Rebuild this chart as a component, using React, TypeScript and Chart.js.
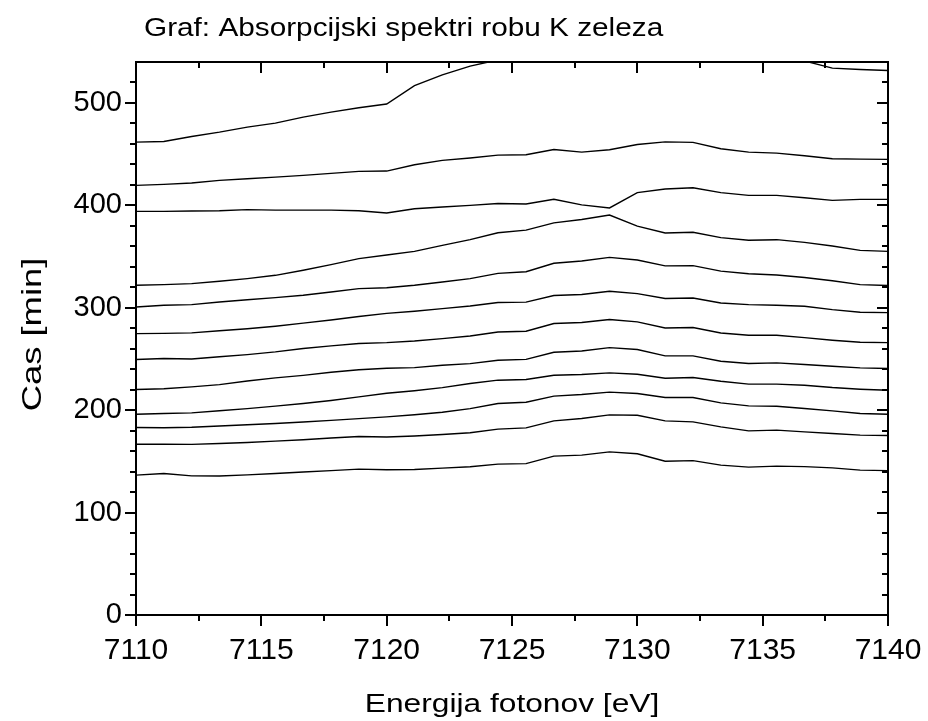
import React, { useEffect, useRef } from 'react';
import { Chart, registerables } from 'chart.js';

Chart.register(...registerables);

const chartTitle = 'Graf: Absorpcijski spektri robu K zeleza';
const xTitle = 'Energija fotonov [eV]';
const yTitle = 'Cas [min]';

const energy = [7110, 7111.11, 7112.22, 7113.33, 7114.44, 7115.56, 7116.67, 7117.78, 7118.89, 7120, 7121.11, 7122.22, 7123.33, 7124.44, 7125.56, 7126.67, 7127.78, 7128.89, 7130, 7131.11, 7132.22, 7133.33, 7134.44, 7135.56, 7136.67, 7137.78, 7138.89, 7140];

const line1 = [136.6, 138.2, 135.9, 135.8, 136.8, 138.2, 139.6, 141, 142.4, 141.8, 142.1, 143.4, 144.7, 147.3, 147.8, 155.1, 156.1, 159.3, 157.5, 150.2, 150.7, 146.3, 144.4, 145.4, 144.9, 143.7, 141.5, 141];
const line2 = [166.8, 166.8, 166.6, 167.5, 168.5, 169.8, 171.2, 172.8, 174.3, 173.8, 174.8, 176.3, 178, 181.5, 182.7, 189.6, 191.9, 195.4, 195.1, 189.6, 188.6, 183.7, 179.8, 180.5, 178.8, 177.3, 175.6, 175.3];
const line3 = [183.1, 182.8, 183.3, 184.5, 185.8, 187, 188.4, 190, 191.8, 193.5, 195.5, 198, 201.5, 206.5, 207.8, 213.7, 215.3, 217.6, 216.3, 212.4, 212.4, 207.1, 204.2, 203.9, 201.7, 199.3, 196.8, 196.1];
const line4 = [196.1, 196.8, 197.4, 199.5, 201.5, 204, 206.5, 209.5, 213, 216.5, 219, 222, 226, 229.3, 230, 234.1, 234.8, 236.4, 235.1, 231.2, 231.9, 228.3, 225.4, 225.4, 224.4, 222.1, 220.5, 219.5];
const line5 = [220.2, 221, 222.8, 225, 228.5, 231.5, 234, 237, 239.5, 241, 241.6, 243.9, 245.5, 248.8, 249.6, 256.6, 257.8, 261.1, 259.2, 253, 253, 247.8, 245.6, 246.2, 244.6, 242.9, 241.3, 240.7];
const line6 = [249.5, 250.4, 250, 252.2, 254.3, 256.9, 260.2, 262.8, 265.1, 266, 267.6, 269.9, 272.5, 276.4, 277.1, 284.6, 285.6, 288.5, 286.2, 280.3, 280.7, 275.4, 273.2, 273.2, 270.9, 268.3, 266.3, 266];
const line7 = [274.8, 275, 275.5, 277.5, 279.5, 282, 285, 288, 291.5, 294.5, 296.6, 299.2, 301.8, 305.1, 305.5, 312, 313, 316.1, 313.8, 309, 309.6, 304.7, 303.1, 302.4, 301.5, 298.2, 295.6, 295.3];
const line8 = [300.8, 302.4, 303.1, 305.7, 307.9, 309.9, 312.2, 315.4, 318.7, 319.5, 322, 325.2, 328.5, 333.6, 335.2, 343.5, 345.7, 349.2, 346.6, 340.9, 341.2, 335.8, 333.2, 332, 329.5, 326.4, 322.6, 321.7];
const line9 = [322, 322.6, 323.6, 325.9, 328.5, 331.7, 336.6, 342.1, 348, 351.5, 355.1, 361, 366.5, 373.3, 375.8, 382.9, 386.2, 390.6, 379.8, 373, 373.7, 368.5, 365.9, 366.5, 363.9, 360.3, 356.1, 355.1];
const line10 = [394.1, 394.1, 394.5, 394.8, 395.8, 395.4, 395.4, 395.4, 394.8, 392.5, 396.7, 398.4, 400, 401.8, 401.3, 405.9, 400.5, 397.5, 412.4, 416, 417.2, 412.4, 409.8, 409.8, 407.5, 404.9, 405.9, 405.9];
const line11 = [419.5, 420.5, 421.8, 424.4, 426, 427.6, 429.3, 431.2, 433.2, 433.5, 439.7, 443.9, 446.2, 449.1, 449.4, 454.6, 452, 454.3, 459.5, 462, 461.5, 455.3, 452, 451, 448.5, 445.5, 445.2, 444.9];
const line12 = [461.8, 462.4, 467.3, 471.5, 476.4, 480.3, 486.2, 491, 495.3, 499, 517, 527.5, 536, 542, 547, 551, 554, 556, 557, 558, 557, 555, 552, 548, 541, 534, 532.7, 531.7];

const seriesList = [line1, line2, line3, line4, line5, line6, line7, line8, line9, line10, line11, line12];

const xMajorTicks = [7110, 7115, 7120, 7125, 7130, 7135, 7140];
const xMinorTicks = [7112.5, 7117.5, 7122.5, 7127.5, 7132.5, 7137.5];
const yMajorTicks = [0, 100, 200, 300, 400, 500];
const yMinorTicks = [20, 40, 60, 80, 120, 140, 160, 180, 220, 240, 260, 280, 320, 340, 360, 380, 420, 440, 460, 480, 520];

const FONT = "'Liberation Sans', Arial, sans-serif";

function drawStretched(ctx: any, text: string, x: number, y: number, sx: number, rot: number, font: string, align: string) {
  ctx.save();
  ctx.translate(x, y);
  ctx.rotate(rot);
  ctx.scale(sx, 1);
  ctx.font = font;
  ctx.textAlign = align;
  ctx.textBaseline = 'alphabetic';
  ctx.fillStyle = '#000';
  ctx.fillText(text, 0, 0);
  ctx.restore();
}

const framePlugin = {
  id: 'frameTicks',
  afterDraw(chart: any) {
    const { ctx, chartArea: a, scales } = chart;
    const xs = scales.x;
    const ys = scales.y;
    ctx.save();
    ctx.strokeStyle = '#000';
    ctx.lineWidth = 2;
    ctx.strokeRect(a.left, a.top, a.right - a.left, a.bottom - a.top);
    ctx.beginPath();
    const major = 11;
    const minor = 6;
    xMajorTicks.forEach((v) => {
      const p = Math.round(xs.getPixelForValue(v));
      ctx.moveTo(p, a.bottom); ctx.lineTo(p, a.bottom + major);
      ctx.moveTo(p, a.top); ctx.lineTo(p, a.top + major);
    });
    xMinorTicks.forEach((v) => {
      const p = Math.round(xs.getPixelForValue(v));
      ctx.moveTo(p, a.bottom); ctx.lineTo(p, a.bottom + minor);
      ctx.moveTo(p, a.top); ctx.lineTo(p, a.top + minor);
    });
    yMajorTicks.forEach((v) => {
      const p = Math.round(ys.getPixelForValue(v));
      ctx.moveTo(a.left, p); ctx.lineTo(a.left - major, p);
      ctx.moveTo(a.right, p); ctx.lineTo(a.right - major, p);
    });
    yMinorTicks.forEach((v) => {
      const p = Math.round(ys.getPixelForValue(v));
      ctx.moveTo(a.left, p); ctx.lineTo(a.left - minor, p);
      ctx.moveTo(a.right, p); ctx.lineTo(a.right - minor, p);
    });
    ctx.stroke();
    ctx.restore();
    const cx = (a.left + a.right) / 2;
    const cy = (a.top + a.bottom) / 2;
    drawStretched(ctx, chartTitle, a.left + 8, 36, 1.19, 0, `25px ${FONT}`, 'left');
    drawStretched(ctx, xTitle, cx, a.bottom + 97, 1.22, 0, `26px ${FONT}`, 'center');
    drawStretched(ctx, yTitle, 41, cy - 4, 1.3, -Math.PI / 2, `28px ${FONT}`, 'center');
  },
};

export default function App() {
  const ref = useRef<HTMLCanvasElement>(null);
  useEffect(() => {
    if (!ref.current) return;
    const chart = new Chart(ref.current, {
      type: 'line',
      data: {
        datasets: seriesList.map((s, i) => ({
          label: `t${i + 1}`,
          data: energy.map((e, j) => ({ x: e, y: s[j] })),
          borderColor: '#000',
          borderWidth: 1.4,
          pointRadius: 0,
          fill: false,
          tension: 0,
        })),
      },
      options: {
        responsive: false,
        animation: false,
        devicePixelRatio: 1,
        layout: { padding: { top: 62, right: 40, left: 0, bottom: 0 } },
        plugins: {
          legend: { display: false },
          tooltip: { enabled: false },
          title: { display: false },
        },
        scales: {
          x: {
            type: 'linear',
            min: 7110,
            max: 7140,
            grid: { display: false, drawTicks: false },
            border: { display: false },
            ticks: {
              stepSize: 5,
              autoSkip: false,
              maxRotation: 0,
              padding: 18,
              color: '#000',
              font: { family: FONT, size: 30 },
              callback: (v: any) => String(v),
            },
            title: { display: false },
            afterFit: (s: any) => { s.height = 106; s.paddingLeft = 0; s.paddingRight = 0; },
          },
          y: {
            type: 'linear',
            min: 0,
            max: 540,
            grid: { display: false, drawTicks: false },
            border: { display: false },
            ticks: {
              stepSize: 100,
              includeBounds: false,
              padding: 14,
              color: '#000',
              font: { family: FONT, size: 29 },
              callback: (v: any) => String(v),
            },
            title: { display: false },
            afterFit: (s: any) => { s.width = 136; s.paddingTop = 0; s.paddingBottom = 0; },
          },
        },
      },
      plugins: [framePlugin],
    });
    return () => chart.destroy();
  }, []);
  return (
    <div style={{ position: 'absolute', left: 0, top: 0, width: 928, height: 721 }}>
      <canvas ref={ref} width={928} height={721} style={{ display: 'block' }} />
    </div>
  );
}
